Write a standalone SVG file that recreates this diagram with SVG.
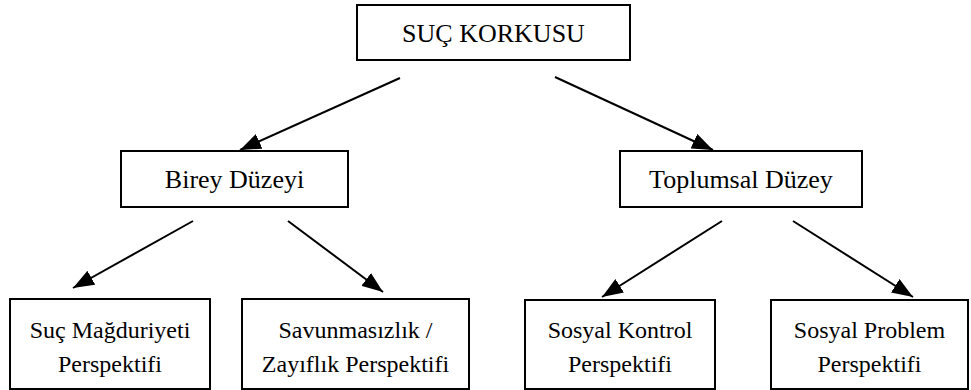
<svg xmlns="http://www.w3.org/2000/svg" width="971" height="390" viewBox="0 0 971 390">
<defs>
<marker id="ah" markerUnits="userSpaceOnUse" markerWidth="22" markerHeight="16" refX="21" refY="8" orient="auto">
<path d="M0,0 L21,8 L0,16 z" fill="#000"/>
</marker>
</defs>
<rect width="971" height="390" fill="#fff"/>
<g id="n-root"><rect x="357" y="5" width="273" height="55" fill="#fff" stroke="#000" stroke-width="2"/><text x="493.5" y="42" font-family="Liberation Serif" font-size="26" text-anchor="middle">SUÇ KORKUSU</text></g>
<g id="n-birey"><rect x="121" y="151" width="227" height="56" fill="#fff" stroke="#000" stroke-width="2"/><text x="234.5" y="188" font-family="Liberation Serif" font-size="26" text-anchor="middle">Birey Düzeyi</text></g>
<g id="n-toplum"><rect x="620" y="151" width="242" height="56" fill="#fff" stroke="#000" stroke-width="2"/><text x="741" y="188" font-family="Liberation Serif" font-size="26" text-anchor="middle">Toplumsal Düzey</text></g>
<g id="n-magdur"><rect x="10" y="299" width="200" height="90" fill="#fff" stroke="#000" stroke-width="2"/><text x="110" y="338" font-family="Liberation Serif" font-size="24" text-anchor="middle">Suç Mağduriyeti</text><text x="110" y="372" font-family="Liberation Serif" font-size="24" text-anchor="middle">Perspektifi</text></g>
<g id="n-savun"><rect x="242" y="299" width="227" height="90" fill="#fff" stroke="#000" stroke-width="2"/><text x="355.5" y="338" font-family="Liberation Serif" font-size="24" text-anchor="middle">Savunmasızlık /</text><text x="355.5" y="372" font-family="Liberation Serif" font-size="24" text-anchor="middle">Zayıflık Perspektifi</text></g>
<g id="n-kontrol"><rect x="525" y="300" width="190" height="89" fill="#fff" stroke="#000" stroke-width="2"/><text x="620" y="338" font-family="Liberation Serif" font-size="24" text-anchor="middle">Sosyal Kontrol</text><text x="620" y="372" font-family="Liberation Serif" font-size="24" text-anchor="middle">Perspektifi</text></g>
<g id="n-problem"><rect x="771" y="300" width="197" height="89" fill="#fff" stroke="#000" stroke-width="2"/><text x="869.5" y="338" font-family="Liberation Serif" font-size="24" text-anchor="middle">Sosyal Problem</text><text x="869.5" y="372" font-family="Liberation Serif" font-size="24" text-anchor="middle">Perspektifi</text></g>
<g id="connectors" stroke="#000" stroke-width="2" fill="none" marker-end="url(#ah)">
<line x1="400" y1="78" x2="240" y2="150"/>
<line x1="555" y1="77" x2="713" y2="150"/>
<line x1="193" y1="221" x2="73" y2="288"/>
<line x1="288" y1="221" x2="383" y2="292"/>
<line x1="722" y1="221" x2="602" y2="297"/>
<line x1="793" y1="221" x2="913" y2="297"/>
</g>
</svg>
